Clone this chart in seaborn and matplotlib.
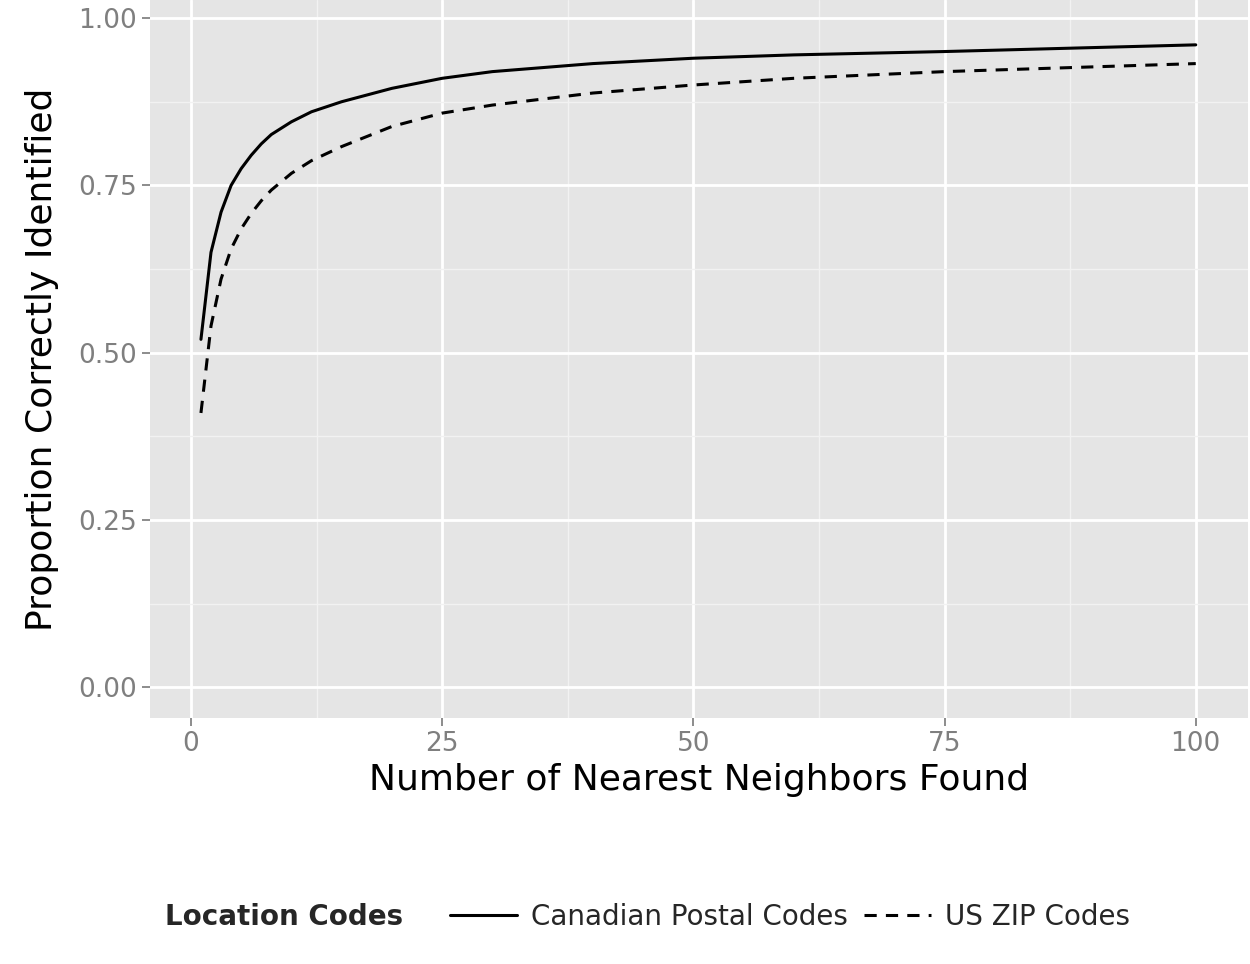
import matplotlib
matplotlib.use("Agg")
import matplotlib.pyplot as plt
import seaborn as sns
import pandas as pd
from matplotlib.lines import Line2D

neighbors = [1, 2, 3, 4, 5, 6, 7, 8, 10, 12, 15, 20, 25, 30, 40, 50, 60, 75, 100]
canadian = [0.52, 0.65, 0.71, 0.75, 0.775, 0.795, 0.812, 0.826, 0.845, 0.86, 0.875, 0.895, 0.91, 0.92, 0.932, 0.94, 0.945, 0.95, 0.96]
us_zip = [0.41, 0.54, 0.61, 0.655, 0.685, 0.708, 0.727, 0.743, 0.768, 0.787, 0.808, 0.838, 0.858, 0.87, 0.888, 0.90, 0.91, 0.92, 0.932]
series_names = ["Canadian Postal Codes", "US ZIP Codes"]

df = pd.DataFrame({
    "k": neighbors * 2,
    "p": canadian + us_zip,
    "code": [series_names[0]] * len(neighbors) + [series_names[1]] * len(neighbors),
})

sns.set_theme(style="darkgrid", rc={"axes.facecolor": "#E5E5E5", "grid.color": "white"})
plt.rcParams['font.family'] = ['DejaVu Sans']
fig = plt.figure(figsize=(12.5, 9.64), dpi=100)
ax = fig.add_axes([0.12, 0.255, 0.8784, 0.745])
sns.lineplot(data=df, x="k", y="p", style="code", color="black", linewidth=2.2,
             dashes={series_names[0]: "", series_names[1]: (4, 3)}, ax=ax, legend=False)
ax.set_xlim(-4.07, 105.2)
ax.set_ylim(-0.046, 1.027)
ax.set_xticks([0, 25, 50, 75, 100])
ax.set_xticks([12.5, 37.5, 62.5, 87.5], minor=True)
ax.set_yticks([0, 0.25, 0.5, 0.75, 1.0])
ax.set_yticks([0.125, 0.375, 0.625, 0.875], minor=True)
ax.set_yticklabels(["0.00", "0.25", "0.50", "0.75", "1.00"])
ax.grid(which="major", color="white", linewidth=2)
ax.grid(which="minor", color="#F2F2F2", linewidth=1)
ax.tick_params(axis="both", labelsize=19, labelcolor="#7F7F7F", length=6, color="#7F7F7F", which="major", bottom=True, left=True)
ax.set_xlabel("Number of Nearest Neighbors Found", fontsize=26, color="black", labelpad=4)
ax.set_ylabel("Proportion Correctly Identified", fontsize=26, color="black", labelpad=14)
for s in ax.spines.values():
    s.set_visible(False)

fig.text(0.132, 0.049, "Location Codes", fontsize=20, fontweight="bold", va="center", ha="left")
handles = [Line2D([], [], color="black", lw=2.2),
           Line2D([], [], color="black", lw=2.2, ls=(0, (4, 3)))]
fig.legend(handles, series_names, loc="center left", bbox_to_anchor=(0.36, 0.049), ncol=2,
           frameon=False, fontsize=20, handlelength=2.4, borderaxespad=0, borderpad=0,
           columnspacing=0.6, handletextpad=0.5)
fig.savefig("out.png", dpi=100)
